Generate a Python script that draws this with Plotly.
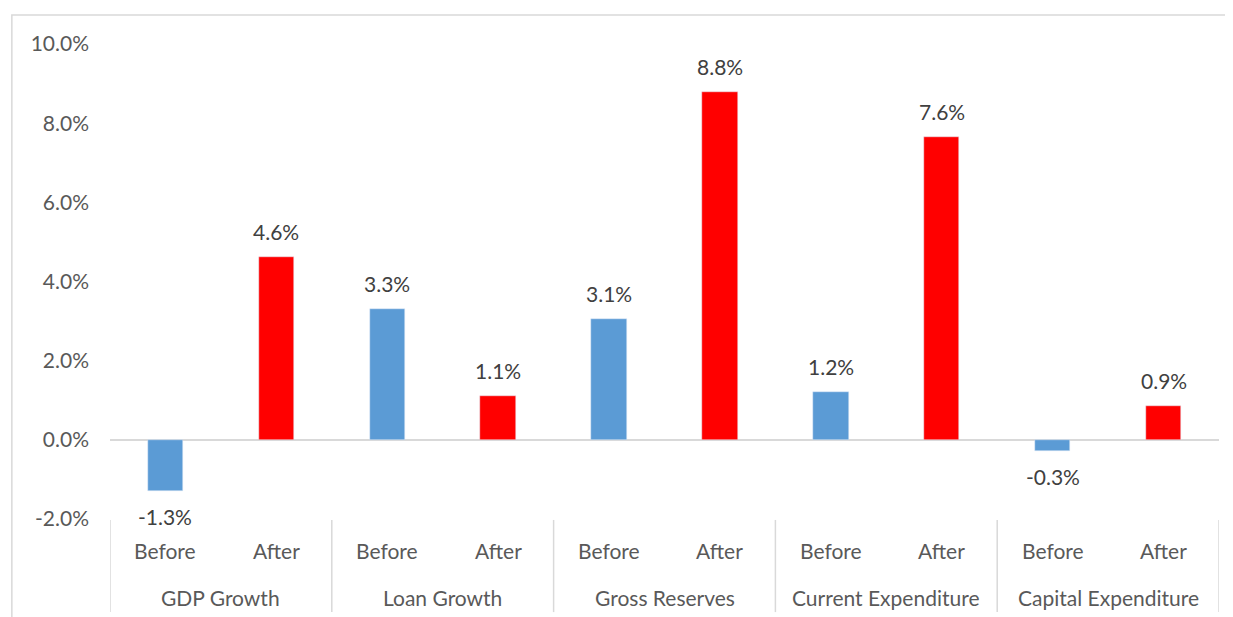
import plotly.graph_objects as go

groups = ["GDP Growth", "Loan Growth", "Gross Reserves", "Current Expenditure", "Capital Expenditure"]
periods = ["Before", "After"]
before_vals = [-1.29, 3.31, 3.06, 1.20, -0.27]
after_vals = [4.62, 1.12, 8.80, 7.64, 0.86]
before_labels = ["-1.3%", "3.3%", "3.1%", "1.2%", "-0.3%"]
after_labels = ["4.6%", "1.1%", "8.8%", "7.6%", "0.9%"]
y_ticks = [-2, 0, 2, 4, 6, 8, 10]

BLUE = "#5B9BD5"
RED = "#FF0000"
FONT = "Lato"
FS = 21

n = len(groups)
x_before = [2 * i for i in range(n)]
x_after = [2 * i + 1 for i in range(n)]

fig = go.Figure()
fig.add_trace(go.Bar(x=x_before, y=before_vals, marker_color=BLUE, width=0.32,
                     name="Before", showlegend=False))
fig.add_trace(go.Bar(x=x_after, y=after_vals, marker_color=RED, width=0.32,
                     name="After", showlegend=False))

annotations = []
for xs, vals, labs in [(x_before, before_vals, before_labels), (x_after, after_vals, after_labels)]:
    for x, v, t in zip(xs, vals, labs):
        annotations.append(dict(x=x, y=v, xref="x", yref="y", text=t, showarrow=False,
                                yanchor="bottom" if v >= 0 else "top",
                                yshift=11 if v >= 0 else -11,
                                font=dict(family=FONT, size=FS, color="#404040")))
for i in range(n):
    for j, p in enumerate(periods):
        annotations.append(dict(x=2 * i + j, y=-0.067, xref="x", yref="paper", text=p,
                                showarrow=False, yanchor="middle",
                                font=dict(family=FONT, size=FS, color="#595959")))
    annotations.append(dict(x=2 * i + 0.5, y=-0.166, xref="x", yref="paper", text=groups[i],
                            showarrow=False, yanchor="middle",
                            font=dict(family=FONT, size=FS, color="#595959")))

shapes = []
for i in range(n + 1):
    shapes.append(dict(type="line", xref="x", yref="paper", x0=2 * i - 0.5, x1=2 * i - 0.5,
                       y0=-0.002, y1=-0.196, line=dict(color="#D9D9D9", width=1.5)))
# chart border
shapes.append(dict(type="rect", xref="paper", yref="paper", x0=-0.0885, x1=1.2,
                   y0=-0.4, y1=1.061, line=dict(color="#D9D9D9", width=1.5),
                   fillcolor="rgba(0,0,0,0)", layer="below"))

fig.update_layout(
    width=1225, height=609,
    margin=dict(l=102, r=14, t=36, b=98),
    paper_bgcolor="white", plot_bgcolor="white",
    bargap=0, barmode="overlay",
    annotations=annotations, shapes=shapes,
    xaxis=dict(range=[-0.5, 2 * n - 0.5], showticklabels=False, showgrid=False,
               zeroline=False, showline=False, ticks=""),
    yaxis=dict(range=[-2, 10], tickvals=y_ticks,
               ticktext=[f"{v:.1f}%" for v in y_ticks],
               showgrid=False, zeroline=True, zerolinecolor="#D9D9D9", zerolinewidth=1.5,
               showline=False, ticks="", ticklabelstandoff=20,
               tickfont=dict(family=FONT, size=FS, color="#595959")),
)

fig.write_html("out.html")
